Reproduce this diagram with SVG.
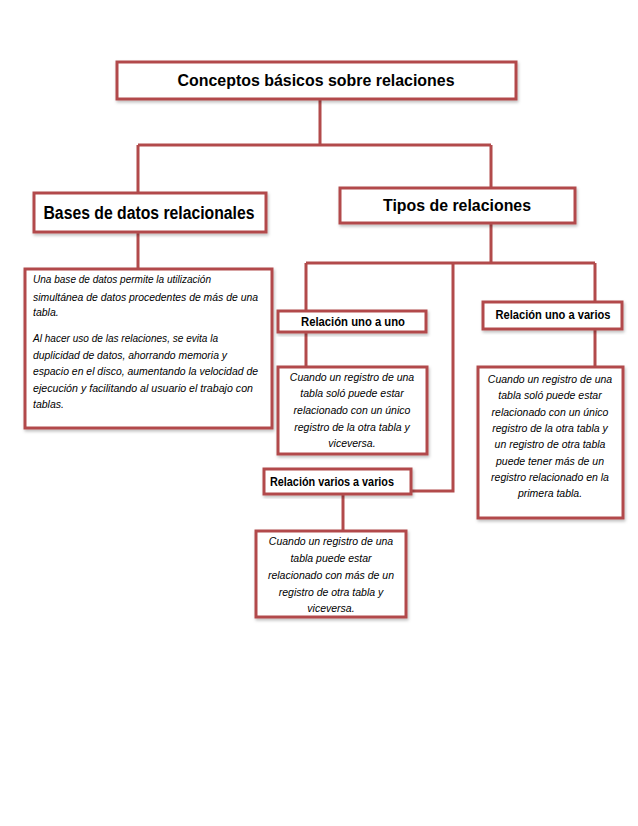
<svg xmlns="http://www.w3.org/2000/svg" width="638" height="826" viewBox="0 0 638 826">
  <style>
    .box { fill: #ffffff; stroke: #B24A4B; stroke-width: 3; }
    .conn { fill: none; stroke: #B24A4B; stroke-width: 3; }
    .h { font-family: "Liberation Sans", Arial, sans-serif; font-weight: bold; fill: #000; text-anchor: middle; }
    .t { font-family: "Liberation Sans", Arial, sans-serif; font-style: italic; font-size: 10.5px; fill: #000; }
    .c { text-anchor: middle; }
  </style>
  <defs>
    <filter id="sh" x="-10%" y="-10%" width="120%" height="130%">
      <feDropShadow dx="1" dy="2" stdDeviation="1.5" flood-color="#000" flood-opacity="0.25"/>
    </filter>
  </defs>
  <rect width="638" height="826" fill="#ffffff"/>

  <g id="connectors">
    <path class="conn" d="M320 99 V145 M138 145 H491 M138 145 V193 M491 145 V188"/>
    <path class="conn" d="M138 232 V269"/>
    <path class="conn" d="M491 223 V263 M306 263 H595 M306 263 V311 M595 263 V302"/>
    <path class="conn" d="M306 332 V367"/>
    <path class="conn" d="M595 329 V367"/>
    <path class="conn" d="M453 263 V491 H411"/>
    <path class="conn" d="M343 494 V531"/>
  </g>

  <g id="title">
    <rect class="box" filter="url(#sh)" x="117" y="62" width="399" height="37"/>
    <text class="h" x="316" y="86" font-size="16" textLength="277" lengthAdjust="spacingAndGlyphs">Conceptos básicos sobre relaciones</text>
  </g>

  <g id="bases">
    <rect class="box" filter="url(#sh)" x="34" y="193" width="232" height="39"/>
    <text class="h" x="149" y="219" font-size="18" textLength="211" lengthAdjust="spacingAndGlyphs">Bases de datos relacionales</text>
  </g>

  <g id="bases-text">
    <rect class="box" filter="url(#sh)" x="25" y="269" width="247" height="159"/>
    <text class="t" x="33" y="283" textLength="178" lengthAdjust="spacingAndGlyphs">Una base de datos permite la utilización</text>
    <text class="t" x="33" y="301" textLength="225" lengthAdjust="spacingAndGlyphs">simultánea de datos procedentes de más de una</text>
    <text class="t" x="33" y="316">tabla.</text>
    <text class="t" x="33" y="342" textLength="185" lengthAdjust="spacingAndGlyphs">Al hacer uso de las relaciones, se evita la</text>
    <text class="t" x="33" y="359" textLength="194" lengthAdjust="spacingAndGlyphs">duplicidad de datos, ahorrando memoria y</text>
    <text class="t" x="33" y="375" textLength="225" lengthAdjust="spacingAndGlyphs">espacio en el disco, aumentando la velocidad de</text>
    <text class="t" x="33" y="392" textLength="220" lengthAdjust="spacingAndGlyphs">ejecución y facilitando al usuario el trabajo con</text>
    <text class="t" x="33" y="408">tablas.</text>
  </g>

  <g id="tipos">
    <rect class="box" filter="url(#sh)" x="340" y="188" width="235" height="35"/>
    <text class="h" x="457" y="211" font-size="16" textLength="148" lengthAdjust="spacingAndGlyphs">Tipos de relaciones</text>
  </g>

  <g id="uno-a-uno">
    <rect class="box" filter="url(#sh)" x="278" y="311" width="148" height="21"/>
    <text class="h" x="353" y="326" font-size="12" textLength="104" lengthAdjust="spacingAndGlyphs">Relación uno a uno</text>
  </g>

  <g id="uno-a-uno-text">
    <rect class="box" filter="url(#sh)" x="278" y="367" width="149" height="87"/>
    <text class="t c" x="352" y="381">Cuando un registro de una</text>
    <text class="t c" x="352" y="397">tabla soló puede estar</text>
    <text class="t c" x="352" y="414">relacionado con un único</text>
    <text class="t c" x="352" y="431">registro de la otra tabla y</text>
    <text class="t c" x="352" y="447">viceversa.</text>
  </g>

  <g id="uno-a-varios">
    <rect class="box" filter="url(#sh)" x="483" y="302" width="139" height="27"/>
    <text class="h" x="553" y="319" font-size="12" textLength="115" lengthAdjust="spacingAndGlyphs">Relación uno a varios</text>
  </g>

  <g id="uno-a-varios-text">
    <rect class="box" filter="url(#sh)" x="478" y="367" width="145" height="151"/>
    <text class="t c" x="550" y="383">Cuando un registro de una</text>
    <text class="t c" x="550" y="399">tabla soló puede estar</text>
    <text class="t c" x="550" y="416">relacionado con un único</text>
    <text class="t c" x="550" y="432">registro de la otra tabla y</text>
    <text class="t c" x="550" y="448">un registro de otra tabla</text>
    <text class="t c" x="550" y="465">puede tener más de un</text>
    <text class="t c" x="550" y="481">registro relacionado en la</text>
    <text class="t c" x="550" y="497">primera tabla.</text>
  </g>

  <g id="varios-a-varios">
    <rect class="box" filter="url(#sh)" x="264" y="469" width="147" height="25"/>
    <text class="h" x="332" y="486" font-size="12" textLength="124" lengthAdjust="spacingAndGlyphs">Relación varios a varios</text>
  </g>

  <g id="varios-a-varios-text">
    <rect class="box" filter="url(#sh)" x="256" y="531" width="150" height="86"/>
    <text class="t c" x="331" y="545">Cuando un registro de una</text>
    <text class="t c" x="331" y="562">tabla puede estar</text>
    <text class="t c" x="331" y="579">relacionado con más de un</text>
    <text class="t c" x="331" y="596">registro de otra tabla y</text>
    <text class="t c" x="331" y="612">viceversa.</text>
  </g>
</svg>
